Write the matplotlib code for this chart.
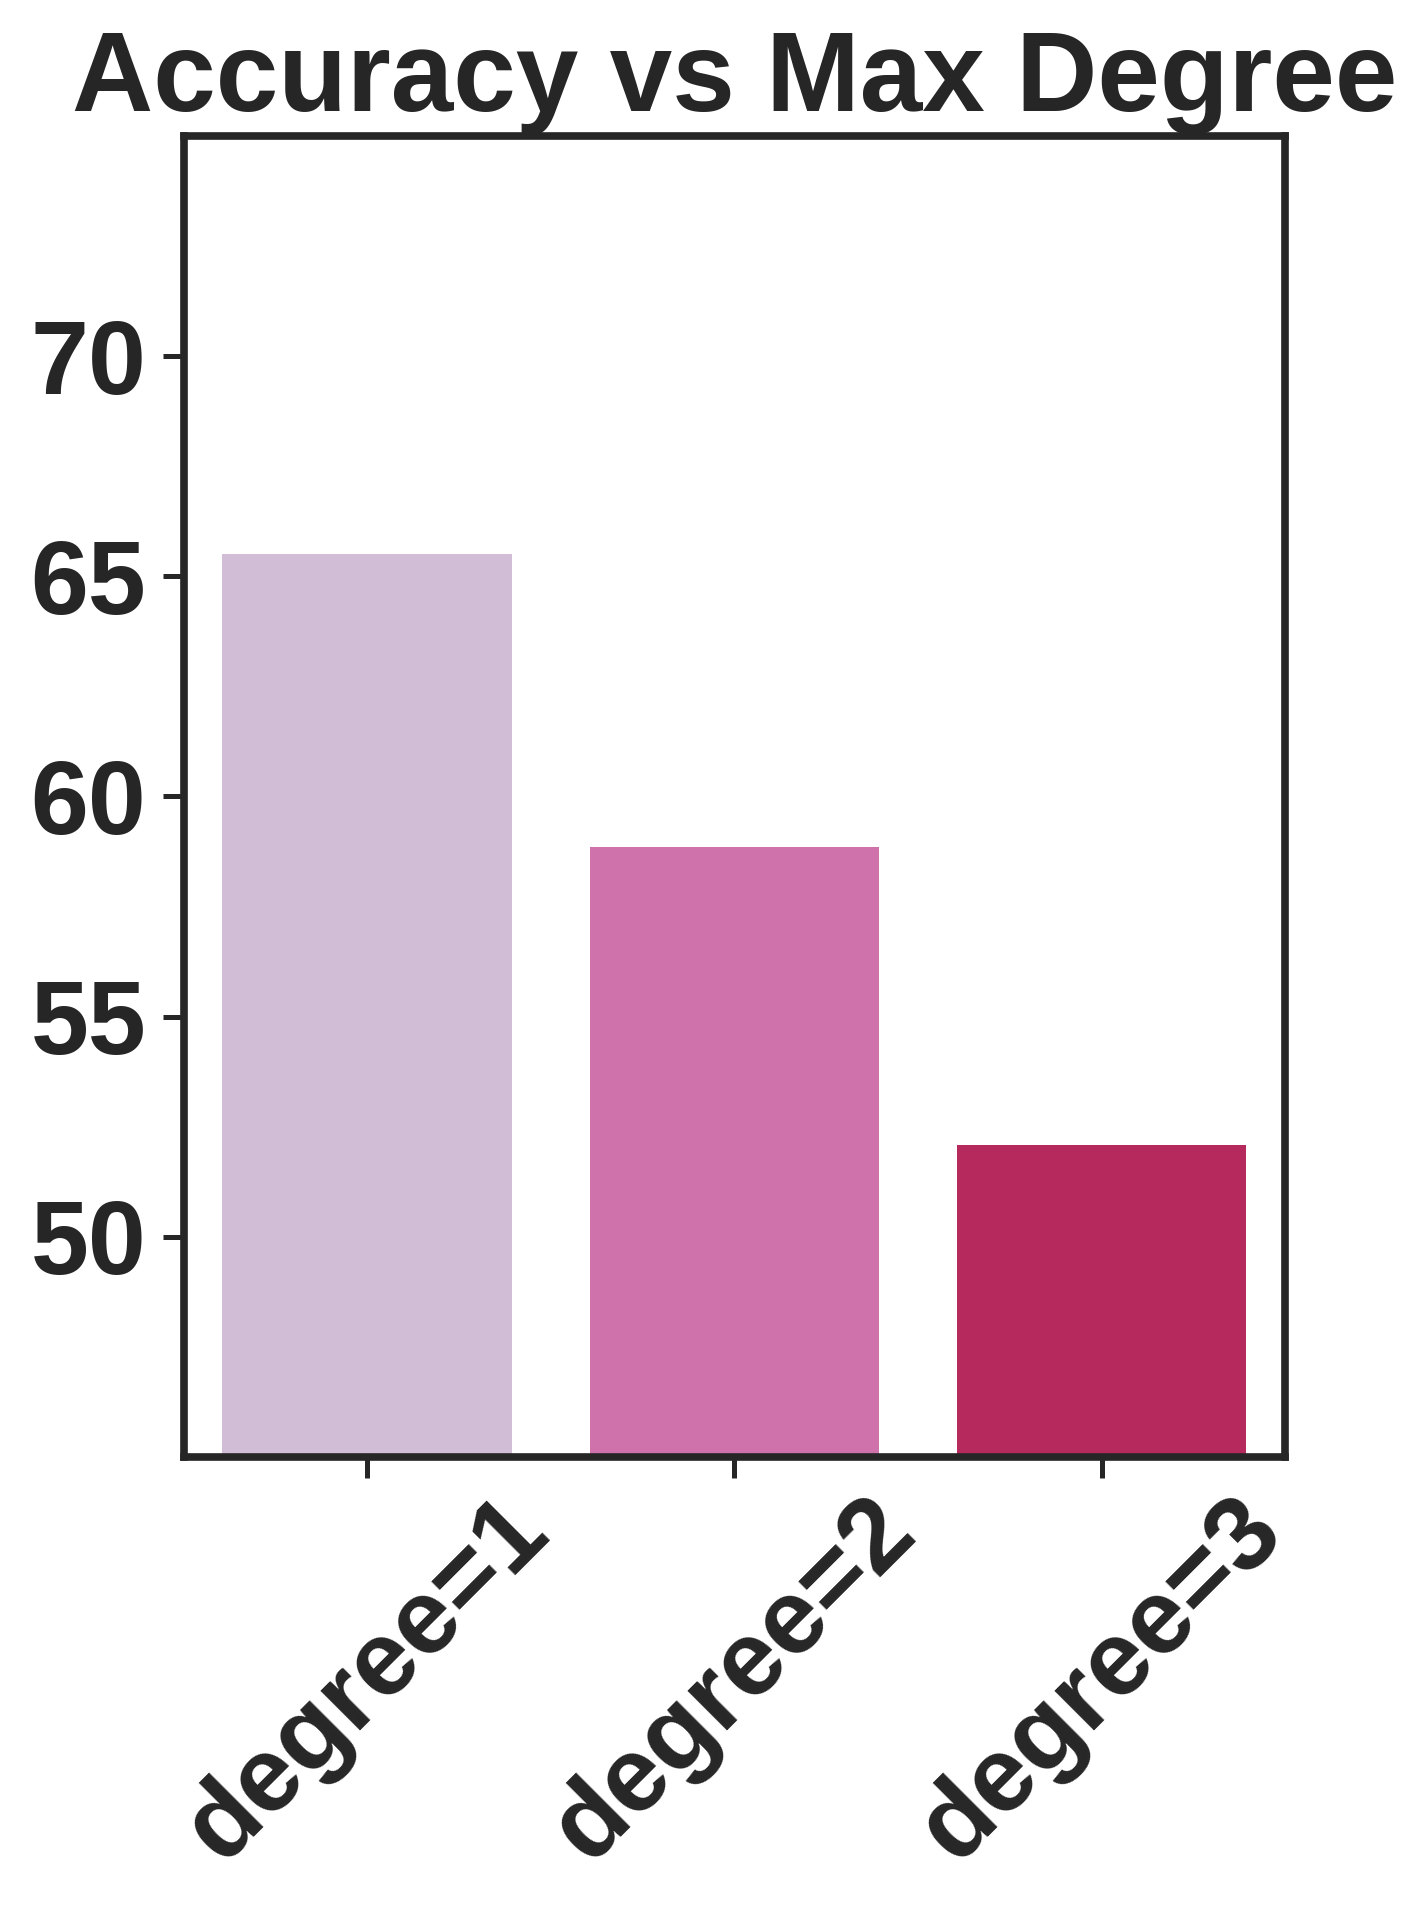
import matplotlib
matplotlib.use("Agg")
import matplotlib.pyplot as plt

# data
categories = ["degree=1", "degree=2", "degree=3"]
accuracy = [65.51, 58.85, 52.09]
bar_colors = ["#d2bdd6", "#cf72ac", "#b5295c"]
yticks = [50, 55, 60, 65, 70]

plt.rcParams["font.family"] = ["Liberation Sans", "DejaVu Sans"]
plt.rcParams["font.weight"] = "bold"
ink = "#262626"

fig = plt.figure(figsize=(14.27, 19.17), dpi=100)
ax = fig.add_axes([0.1289, 0.2400, 0.7716, 0.6891])

x = range(len(categories))
ax.bar(x, accuracy, width=0.79, color=bar_colors)

ax.set_xlim(-0.5, len(categories) - 0.5)
ax.set_ylim(45, 75)
ax.set_yticks(yticks)
ax.set_xticks(list(x))
ax.set_xticklabels(categories, rotation=45, ha="center")

for s in ax.spines.values():
    s.set_linewidth(5.5)
    s.set_color(ink)

ax.tick_params(axis="both", colors=ink, labelcolor=ink,
               length=15, width=3.6)
ax.tick_params(axis="y", labelsize=75, pad=12)
ax.tick_params(axis="x", labelsize=76, pad=2)

ax.set_title("Accuracy vs Max Degree", fontsize=81, fontweight="bold",
             color=ink, pad=18)

fig.savefig("out.png", dpi=100)
